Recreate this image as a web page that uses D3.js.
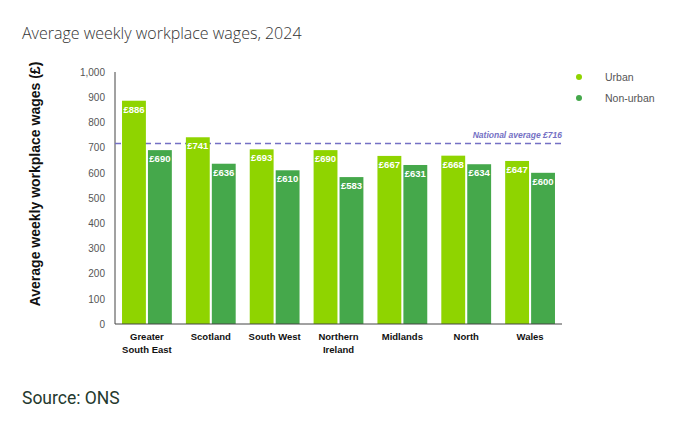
<!DOCTYPE html>
<meta charset="utf-8">
<style>
  body { margin: 0; background: #fff; font-family: "Liberation Sans", Arial, sans-serif; }
  .axis path { stroke: #444; }
  .axis line { display: none; }
  .y-axis text { fill: #555; font-size: 10px; }
</style>
<body>
<svg id="chart" width="680" height="428"></svg>
<script src="https://d3js.org/d3.v7.min.js"></script>
<script>
  const regions = ["Greater South East", "Scotland", "South West", "Northern Ireland", "Midlands", "North", "Wales"];
  const regionLines = [["Greater", "South East"], ["Scotland"], ["South West"], ["Northern", "Ireland"], ["Midlands"], ["North"], ["Wales"]];
  const seriesNames = ["Urban", "Non-urban"];
  const urban = [886, 741, 693, 690, 667, 668, 647];
  const nonUrban = [690, 636, 610, 583, 631, 634, 600];
  const nationalAverage = 716;
  const yTicks = [0, 100, 200, 300, 400, 500, 600, 700, 800, 900, 1000];
  const colors = { "Urban": "#8fd400", "Non-urban": "#45a84b" };

  const svg = d3.select("#chart");
  const margin = { top: 72, right: 118, bottom: 104, left: 115 };
  const width = 680, height = 428;

  const x0 = d3.scaleBand()
    .domain(regions)
    .range([margin.left, width - margin.right])
    .paddingInner(0.22)
    .paddingOuter(0.11);

  const x1 = d3.scaleBand()
    .domain(seriesNames)
    .range([0, x0.bandwidth()])
    .paddingInner(0.08);

  const y = d3.scaleLinear()
    .domain([0, 1000])
    .range([height - margin.bottom, margin.top]);

  // title
  svg.append("text")
    .attr("x", 22).attr("y", 39)
    .attr("fill", "#333")
    .style("font-family", "'Open Sans', sans-serif")
    .style("font-size", "16px")
    .style("font-weight", 300)
    .text("Average weekly workplace wages, 2024");

  // y axis
  svg.append("g")
    .attr("class", "axis y-axis")
    .attr("transform", `translate(${margin.left},0)`)
    .call(d3.axisLeft(y).tickValues(yTicks).tickFormat(d3.format(",")).tickSize(0).tickPadding(10))
    .call(g => g.select(".domain").attr("d", `M0,${y(1000)}V${y(0)}`));

  svg.append("text")
    .attr("transform", `translate(40,${(y(0) + y(1000)) / 2 - 14}) rotate(-90)`)
    .attr("text-anchor", "middle")
    .style("font-size", "14px")
    .style("font-weight", "bold")
    .attr("fill", "#111")
    .text("Average weekly workplace wages (£)");

  // national average line (behind bars)
  svg.append("line")
    .attr("x1", margin.left).attr("x2", width - margin.right)
    .attr("y1", y(nationalAverage)).attr("y2", y(nationalAverage))
    .attr("stroke", "#7470c4")
    .attr("stroke-width", 1.6)
    .attr("stroke-dasharray", "6,4");

  svg.append("text")
    .attr("x", width - margin.right).attr("y", y(nationalAverage) - 6)
    .attr("text-anchor", "end")
    .attr("fill", "#7470c4")
    .style("font-size", "8.5px")
    .style("font-weight", "bold")
    .style("font-style", "italic")
    .text("National average £" + nationalAverage);

  // bars
  const rows = regions.map((r, i) => ({ region: r, values: [
    { key: "Urban", value: urban[i] },
    { key: "Non-urban", value: nonUrban[i] }
  ] }));

  const groups = svg.selectAll(".group")
    .data(rows)
    .join("g")
    .attr("class", "group")
    .attr("transform", d => `translate(${x0(d.region)},0)`);

  groups.selectAll("rect")
    .data(d => d.values)
    .join("rect")
    .attr("x", d => x1(d.key))
    .attr("y", d => y(d.value))
    .attr("width", x1.bandwidth())
    .attr("height", d => y(0) - y(d.value))
    .attr("fill", d => colors[d.key]);

  groups.selectAll(".val")
    .data(d => d.values)
    .join("text")
    .attr("class", "val")
    .attr("x", d => x1(d.key) + x1.bandwidth() / 2)
    .attr("y", d => y(d.value) + 12)
    .attr("text-anchor", "middle")
    .attr("fill", "#fff")
    .style("font-size", "9.5px")
    .style("font-weight", "bold")
    .text(d => "£" + d.value);

  // x axis line
  svg.append("g")
    .attr("class", "axis")
    .attr("transform", `translate(0,${y(0)})`)
    .call(d3.axisBottom(x0).tickSize(0).tickFormat(""))
    .call(g => g.select(".domain").attr("d", `M${margin.left},0H${width - margin.right}`));

  // x labels
  const xl = svg.selectAll(".xlab")
    .data(regions)
    .join("text")
    .attr("class", "xlab")
    .attr("text-anchor", "middle")
    .attr("x", d => x0(d) + x0.bandwidth() / 2)
    .attr("y", y(0) + 16)
    .attr("fill", "#111")
    .style("font-size", "9.5px")
    .style("font-weight", "bold");

  xl.selectAll("tspan")
    .data((d, i) => regionLines[i])
    .join("tspan")
    .attr("x", function() { return this.parentNode.getAttribute("x"); })
    .attr("dy", (d, i) => i === 0 ? 0 : 13)
    .text(d => d);

  // legend
  const legend = svg.selectAll(".leg")
    .data(seriesNames)
    .join("g")
    .attr("class", "leg")
    .attr("transform", (d, i) => `translate(579,${77 + i * 21})`);

  legend.append("circle")
    .attr("r", 3)
    .attr("fill", d => colors[d]);

  legend.append("text")
    .attr("x", 26).attr("y", 4)
    .attr("fill", "#555")
    .style("font-size", "10.5px")
    .text(d => d);

  // source
  svg.append("text")
    .attr("x", 22).attr("y", 404)
    .attr("fill", "#24392e")
    .style("font-family", "Roboto, sans-serif")
    .style("font-size", "17.5px")
    .text("Source: ONS");
</script>
</body>
</html>
